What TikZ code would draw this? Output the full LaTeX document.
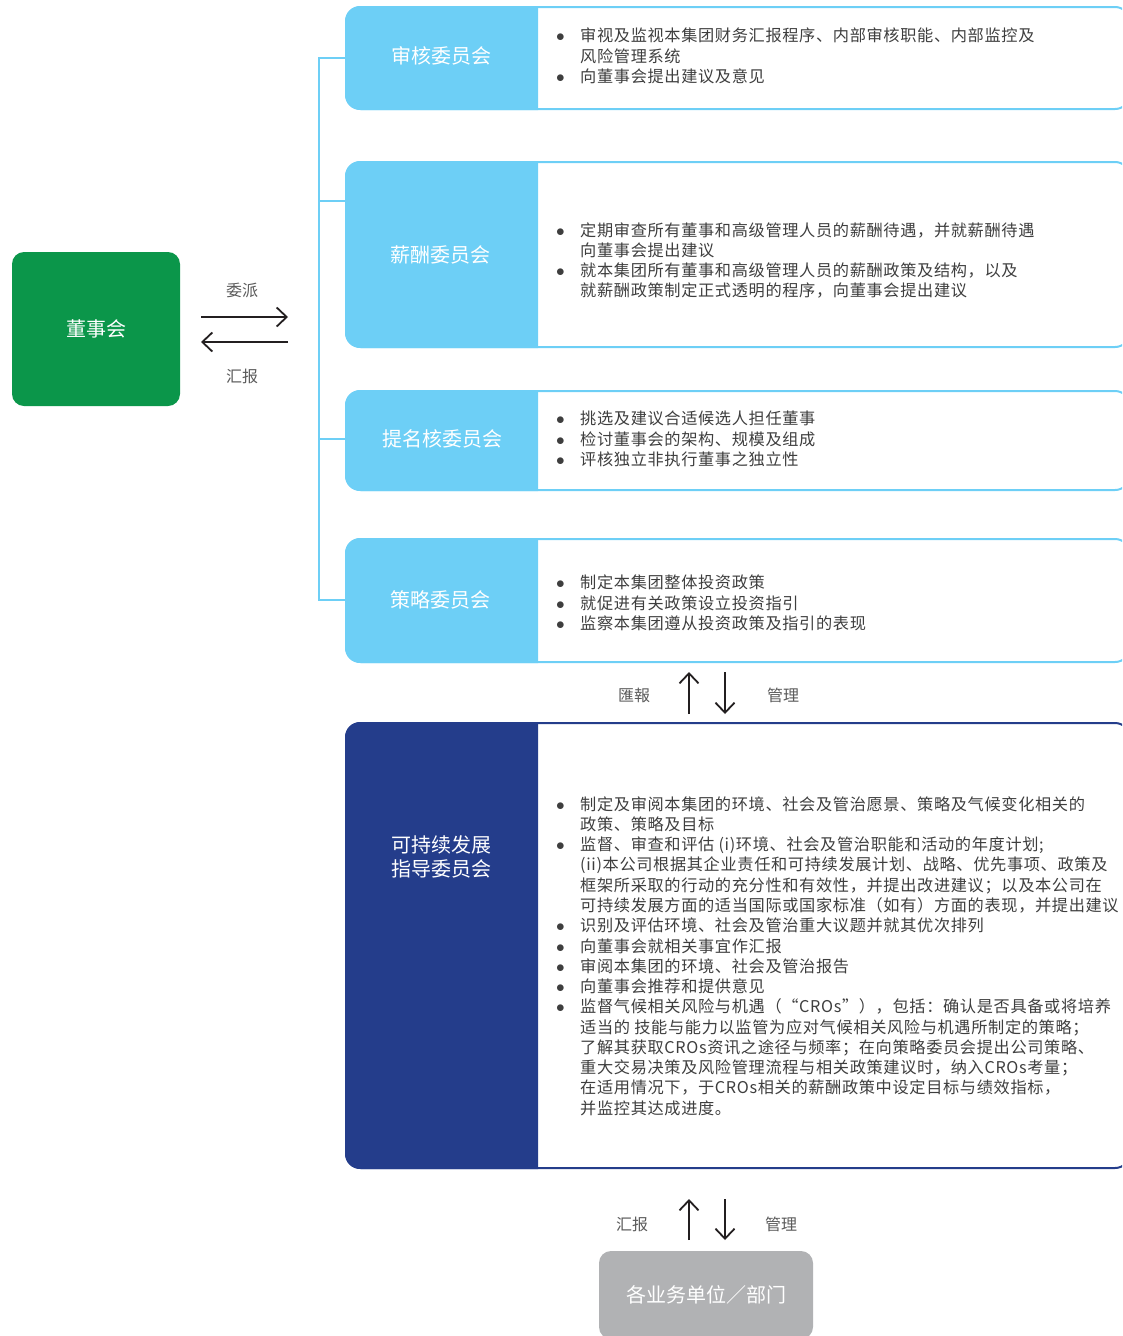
\documentclass[tikz,border=0pt]{standalone}
\usepackage{fontspec}
\setmainfont{Noto Sans CJK SC}
\newfontfamily\dutyfont[LetterSpace=4]{Noto Sans CJK SC}
\usepackage{tikz}
\usetikzlibrary{arrows.meta,calc}

\definecolor{boardgreen}{RGB}{11,150,74}
\definecolor{skyblue}{RGB}{109,207,246}
\definecolor{navy}{RGB}{36,61,139}
\definecolor{unitgray}{RGB}{177,178,180}
\definecolor{bodytext}{RGB}{62,62,62}
\definecolor{captext}{RGB}{90,90,90}
\definecolor{arrowink}{RGB}{35,31,32}

\newcommand{\itm}{\makebox[24pt][l]{$\bullet$}}
\newcommand{\cnt}{\hspace*{24pt}}

\begin{document}
\begin{tikzpicture}
[x = 1pt, y = -1pt]
\tikzset{
	board node/.style = {rectangle, rounded corners = 12, fill = boardgreen, text = white, minimum width = 168, minimum height = 154, font = \fontsize{20}{24}\selectfont},
	frame node/.style = {rectangle, rounded corners = 15, draw = #1, line width = 2, minimum width = 784, inner sep = 0},
	head node/.style = {text = white, align = center, font = \fontsize{20}{24}\selectfont},
	duty node/.style = {anchor = west, align = left, inner sep = 0, text = bodytext, font = \dutyfont\fontsize{16.2}{20.27}\selectfont},
	cap node/.style = {text = captext, font = \fontsize{16}{20}\selectfont},
	unit node/.style = {rectangle, rounded corners = 12, fill = unitgray, text = white, minimum width = 214, minimum height = 88, font = \fontsize{20}{24}\selectfont},
	flow/.style = {draw = arrowink, line width = 1.8, -{Straight Barb[length = 10pt, width = 19pt]}},
	tie/.style = {draw = skyblue, line width = 2.5},
}
\useasboundingbox (0,0) rectangle (1122,1336);
\clip (0,0) rectangle (1122,1336);

% committee frames, coloured on the left
\foreach \name/\top/\bot/\tint in {audit/7/109/skyblue, pay/162/347/skyblue, nom/391/490/skyblue, strat/539/662/skyblue, esg/723/1168/navy}{
	\node (\name)[frame node = \tint, minimum height = \bot-\top] at (738, {(\top+\bot)/2}) {};
	\begin{scope}
		\clip (\name.north west) rectangle ([xshift = 193pt]\name.south west);
		\fill [\tint, rounded corners = 15] (\name.north west) rectangle ([xshift = 240pt]\name.south west);
	\end{scope}
}

\node (auditname)[head node] at (441,56) {审核委员会};
\node (payname)[head node] at (440,255) {薪酬委员会};
\node (nomname)[head node] at (442,439) {提名核委员会};
\node (stratname)[head node] at (440,600) {策略委员会};
\node (esgname)[head node] at (441,857) {可持续发展\\指导委员会};

\node (auditduty)[duty node] at (556,56) {\itm 审视及监视本集团财务汇报程序、内部审核职能、内部监控及\\\cnt 风险管理系统\\\itm 向董事会提出建议及意见};
\node (payduty)[duty node] at (556,260.5) {\itm 定期审查所有董事和高级管理人员的薪酬待遇，并就薪酬待遇\\\cnt 向董事会提出建议\\\itm 就本集团所有董事和高级管理人员的薪酬政策及结构，以及\\\cnt 就薪酬政策制定正式透明的程序，向董事会提出建议};
\node (nomduty)[duty node] at (556,439) {\itm 挑选及建议合适候选人担任董事\\\itm 检讨董事会的架构、规模及组成\\\itm 评核独立非执行董事之独立性};
\node (stratduty)[duty node] at (556,603) {\itm 制定本集团整体投资政策\\\itm 就促进有关政策设立投资指引\\\itm 监察本集团遵从投资政策及指引的表现};
\node (esgduty)[duty node] at (556,956) {\itm 制定及审阅本集团的环境、社会及管治愿景、策略及气候变化相关的\\\cnt 政策、策略及目标\\\itm 监督、审查和评估 (i)环境、社会及管治职能和活动的年度计划;\\\cnt (ii)本公司根据其企业责任和可持续发展计划、战略、优先事项、政策及\\\cnt 框架所采取的行动的充分性和有效性，并提出改进建议；以及本公司在\\\cnt 可持续发展方面的适当国际或国家标准（如有）方面的表现，并提出建议\\\itm 识别及评估环境、社会及管治重大议题并就其优次排列\\\itm 向董事会就相关事宜作汇报\\\itm 审阅本集团的环境、社会及管治报告\\\itm 向董事会推荐和提供意见\\\itm 监督气候相关风险与机遇（“CROs”），包括：确认是否具备或将培养\\\cnt 适当的 技能与能力以监管为应对气候相关风险与机遇所制定的策略；\\\cnt 了解其获取CROs资讯之途径与频率；在向策略委员会提出公司策略、\\\cnt 重大交易决策及风险管理流程与相关政策建议时，纳入CROs考量；\\\cnt 在适用情况下，于CROs相关的薪酬政策中设定目标与绩效指标，\\\cnt 并监控其达成进度。};

% board and bracket
\node (board)[board node] at (96,329) {董事会};
\coordinate (spine) at (319,0);
\coordinate (payjoin) at (346,201);
\draw [tie] (audit.west |- 0,58) -- (spine |- 0,58) -- (spine |- stratname) -- (stratname -| strat.west);
\draw [tie] (payjoin) -- (payjoin -| spine);
\draw [tie] (nomname -| nom.west) -- (nomname -| spine);

\coordinate (sendtip) at (288,317);
\coordinate (backtip) at (201,342);
\draw [flow] (backtip |- sendtip) -- (sendtip);
\draw [flow] (sendtip |- backtip) -- (backtip);
\node (sendcap)[cap node] at (242,290) {委派};
\node (backcap)[cap node] at (242,376) {汇报};

% between strategy and sustainability
\coordinate (uptip) at (689,672);
\coordinate (downtip) at (725,714);
\draw [flow] (uptip |- downtip) -- (uptip);
\draw [flow] (downtip |- uptip) -- (downtip);
\node (upcap)[cap node] at (634,695) {匯報};
\node (downcap)[cap node] at (783,695) {管理};

% business units
\node (unit)[unit node] at (706,1295) {各业务单位／部门};
\coordinate (unituptip) at (689,1199);
\coordinate (unitdowntip) at (725,1240);
\draw [flow] (unituptip |- unitdowntip) -- (unituptip);
\draw [flow] (unitdowntip |- unituptip) -- (unitdowntip);
\node (unitupcap)[cap node] at (632,1224) {汇报};
\node (unitdowncap)[cap node] at (781,1224) {管理};

\end{tikzpicture}
\end{document}
